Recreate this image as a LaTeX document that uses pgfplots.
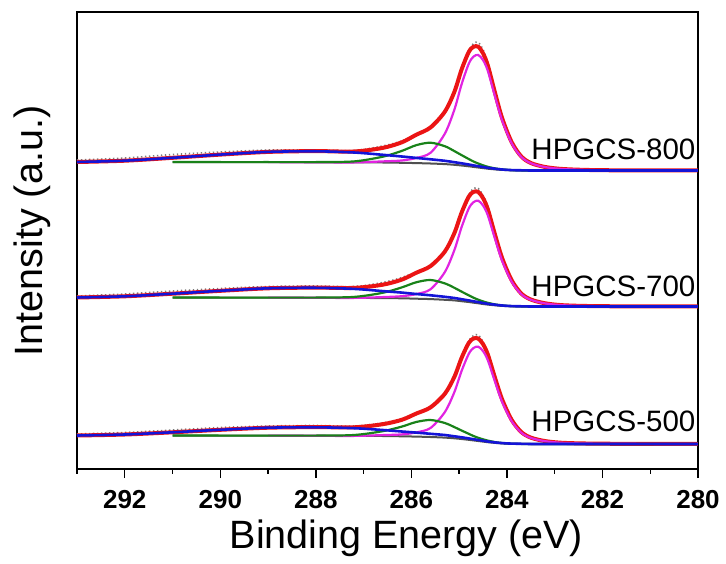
\documentclass[border=0pt]{standalone}
\usepackage{fontspec}
\setmainfont{Liberation Sans}
\usepackage{pgfplots}
\usepackage{pgfplotstable}
\pgfplotsset{compat=1.18}

\definecolor{cred}{RGB}{235,20,20}
\definecolor{cmag}{RGB}{225,35,225}
\definecolor{cgrn}{RGB}{25,130,25}
\definecolor{cblu}{RGB}{20,20,215}
\definecolor{cgry}{RGB}{80,80,80}
\definecolor{craw}{RGB}{125,125,125}

% columns: binding energy, background, C-C (magenta), C-O (green), broad (blue), envelope (red), raw data
\pgfplotstableread{
x bg mag grn blu red raw
293 307.0 307.0 307.0 307.0 307.0 309.0
292 307.0 307.0 307.0 308.3 308.3 311.0
291 306.96 306.96 306.96 311.2 311.2 314.5
290 306.9 306.9 306.9 314.4 314.4 317.0
289 306.9 306.9 306.9 317.1 317.1 319.0
288 306.7 306.7 306.9 317.7 317.9 319.0
287.2 306.6 306.6 307.6 316.5 317.5 318.5
286.6 306.5 307.6 312.3 314.2 321.1 323.0
286.2 306.2 308.5 318.1 312.5 326.7 328.0
285.9 305.9 311.0 323.8 311.1 334.2 334.5
285.6 305.5 316.2 326.3 309.7 341.5 341.0
285.3 304.9 335.3 322.8 308.2 357.3 357.0
285.1 304.2 359.3 317.9 306.8 377.1 377.0
284.95 303.5 384.5 313.9 305.7 399.3 400.0
284.8 302.7 405.1 310.0 304.5 416.9 418.0
284.7 302.1 412.4 307.5 303.6 422.2 425.5
284.6 301.5 414.0 305.5 302.8 422.3 426.5
284.5 300.9 408.9 303.7 302.0 415.7 419.5
284.4 300.3 398.2 302.2 301.2 403.6 406.0
284.25 299.6 372.7 300.6 300.3 376.4 377.0
284.1 299.1 348.6 299.6 299.5 350.8 351.0
283.9 298.7 325.7 298.9 298.9 326.8 326.5
283.7 298.6 312.1 298.6 298.7 312.6 312.0
283.5 298.5 305.8 298.5 298.5 306.0 306.0
283.2 298.5 301.9 298.5 298.5 302.0 302.0
282.8 298.5 299.9 298.5 298.5 299.9 300.0
282 298.5 298.8 298.5 298.5 298.8 298.8
280 298.5 298.5 298.5 298.5 298.5 298.5
}\topdata

\pgfplotstableread{
x bg mag grn blu red raw
293 171.5 171.5 171.5 171.5 171.5 173.0
292 171.5 171.5 171.5 172.7 172.7 175.0
291 171.5 171.5 171.5 175.3 175.3 178.0
290 171.4 171.4 171.4 178.2 178.2 180.5
289 171.4 171.4 171.4 180.7 180.7 182.5
288 171.2 171.2 171.4 181.2 181.4 183.0
287.2 171.1 171.1 172.1 180.1 181.1 182.5
286.6 170.9 171.9 176.2 177.9 184.3 186.5
286.2 170.7 172.8 181.6 176.4 189.4 191.5
285.9 170.3 174.9 186.7 175.0 196.2 197.0
285.6 169.9 179.7 189.0 173.7 202.9 203.0
285.3 169.2 196.9 185.6 172.2 217.4 217.0
285.1 168.6 218.9 181.2 171.0 235.9 236.0
284.95 167.8 241.7 177.4 169.8 256.2 257.0
284.8 167.0 260.4 173.7 168.6 272.3 274.0
284.7 166.3 266.8 171.3 167.7 277.1 280.5
284.6 165.7 268.3 169.3 166.9 277.1 280.5
284.5 165.0 263.5 167.6 166.0 270.9 273.5
284.4 164.4 253.7 166.2 165.2 259.8 262.0
284.25 163.7 230.4 164.6 164.3 234.5 236.0
284.1 163.1 208.2 163.6 163.5 210.9 211.5
283.9 162.7 187.3 162.9 162.9 188.7 188.5
283.7 162.6 174.9 162.6 162.7 175.5 175.5
283.5 162.5 169.2 162.5 162.5 169.5 169.5
283.2 162.5 165.6 162.5 162.5 165.7 165.7
282.8 162.5 163.7 162.5 162.5 163.7 163.7
282 162.5 162.8 162.5 162.5 162.8 162.8
280 162.5 162.5 162.5 162.5 162.5 162.5
}\middata

\pgfplotstableread{
x bg mag grn blu red raw
293 33.5 33.5 33.5 33.5 33.5 35.0
292 33.5 33.5 33.5 34.5 34.5 36.5
291 33.5 33.5 33.5 36.7 36.7 39.0
290 33.4 33.4 33.4 39.2 39.2 41.5
289 33.4 33.4 33.4 41.3 41.3 43.0
288 33.2 33.2 33.4 41.7 41.9 43.5
287.2 33.1 33.1 34.0 40.8 41.7 43.0
286.6 33.0 33.9 37.8 39.0 44.8 46.0
286.2 32.7 34.6 42.4 37.5 49.2 50.5
285.9 32.4 36.6 47.0 36.4 55.4 56.0
285.6 32.0 41.0 49.0 35.2 61.6 62.0
285.3 31.4 56.9 46.0 34.0 75.2 75.5
285.1 30.7 76.9 41.9 32.7 92.1 92.5
284.95 30.0 97.9 38.5 31.7 111.0 112.0
284.8 29.2 115.0 35.2 30.6 126.0 128.0
284.7 28.6 121.0 33.0 29.8 130.5 133.5
284.6 28.0 122.3 31.2 29.0 130.5 134.0
284.5 27.4 117.9 29.7 28.3 124.9 127.0
284.4 26.8 108.8 28.4 27.5 114.6 116.0
284.25 26.1 87.4 26.9 26.6 91.3 92.0
284.1 25.6 67.1 26.0 25.9 69.6 70.0
283.9 25.2 47.8 25.3 25.4 49.1 49.0
283.7 25.1 36.4 25.1 25.2 37.0 37.0
283.5 25.0 31.1 25.0 25.0 31.4 31.4
283.2 25.0 27.8 25.0 25.0 27.9 27.9
282.8 25.0 26.1 25.0 25.0 26.1 26.1
282 25.0 25.3 25.0 25.0 25.3 25.3
280 25.0 25.0 25.0 25.0 25.0 25.0
}\botdata

\begin{document}
\begin{tikzpicture}
\path[use as bounding box] (-77pt,-94pt) rectangle (649pt,469pt);
\begin{axis}[
  at={(0,0)}, anchor=south west,
  width=621pt, height=457pt, scale only axis,
  xmin=280, xmax=293, x dir=reverse,
  ymin=0, ymax=457,
  xtick={280,282,...,292},
  minor xtick={281,283,...,293},
  ytick=\empty,
  xtick pos=bottom,
  tick align=outside,
  major tick length=9pt, minor tick length=4.5pt,
  axis line style={line width=1.4pt},
  every tick/.style={line width=1.4pt, black},
  clip=false,
  /pgf/number format/assume math mode=true,
  xticklabel style={font=\fontsize{26}{26}\selectfont\bfseries, inner sep=0pt, anchor=north, yshift=-12pt},
  xlabel={Binding Energy (eV)},
  ylabel={Intensity (a.u.)},
  xlabel style={font=\fontsize{39.5}{40}\selectfont, inner sep=0pt, anchor=north,
    at={([xshift=19pt,yshift=-50.5pt]rel axis cs:0.5,0)}},
  ylabel style={font=\fontsize{39.5}{40}\selectfont, inner sep=0pt, anchor=south,
    at={([xshift=-25.7pt]rel axis cs:0,0.521)}},
]
% top spectrum
\addplot[craw, line width=1.6pt, dash pattern=on 1.4pt off 2.6pt, smooth] table[x=x,y=raw]{\topdata};
\addplot[cred, line width=4pt, smooth] table[x=x,y=red]{\topdata};
\addplot[cgry, line width=2pt, smooth, restrict x to domain=280:291.2] table[x=x,y=bg]{\topdata};
\addplot[cmag, line width=2.2pt, smooth, restrict x to domain=280:289.2] table[x=x,y=mag]{\topdata};
\addplot[cgrn, line width=2.2pt, smooth, restrict x to domain=280:291.2] table[x=x,y=grn]{\topdata};
\addplot[cblu, line width=2.6pt, smooth] table[x=x,y=blu]{\topdata};
% middle spectrum
\addplot[craw, line width=1.6pt, dash pattern=on 1.4pt off 2.6pt, smooth] table[x=x,y=raw]{\middata};
\addplot[cred, line width=4pt, smooth] table[x=x,y=red]{\middata};
\addplot[cgry, line width=2pt, smooth, restrict x to domain=280:291.2] table[x=x,y=bg]{\middata};
\addplot[cmag, line width=2.2pt, smooth, restrict x to domain=280:289.2] table[x=x,y=mag]{\middata};
\addplot[cgrn, line width=2.2pt, smooth, restrict x to domain=280:291.2] table[x=x,y=grn]{\middata};
\addplot[cblu, line width=2.6pt, smooth] table[x=x,y=blu]{\middata};
% bottom spectrum
\addplot[craw, line width=1.6pt, dash pattern=on 1.4pt off 2.6pt, smooth] table[x=x,y=raw]{\botdata};
\addplot[cred, line width=4pt, smooth] table[x=x,y=red]{\botdata};
\addplot[cgry, line width=2pt, smooth, restrict x to domain=280:291.2] table[x=x,y=bg]{\botdata};
\addplot[cmag, line width=2.2pt, smooth, restrict x to domain=280:289.2] table[x=x,y=mag]{\botdata};
\addplot[cgrn, line width=2.2pt, smooth, restrict x to domain=280:291.2] table[x=x,y=grn]{\botdata};
\addplot[cblu, line width=2.6pt, smooth] table[x=x,y=blu]{\botdata};
% sample labels
\node[anchor=east, inner sep=0pt, font=\fontsize{29.5}{30}\selectfont] at (axis cs:280.05,320) {HPGCS-800};
\node[anchor=east, inner sep=0pt, font=\fontsize{29.5}{30}\selectfont] at (axis cs:280.05,182.3) {HPGCS-700};
\node[anchor=east, inner sep=0pt, font=\fontsize{29.5}{30}\selectfont] at (axis cs:280.05,48) {HPGCS-500};
\end{axis}
\end{tikzpicture}
\end{document}
